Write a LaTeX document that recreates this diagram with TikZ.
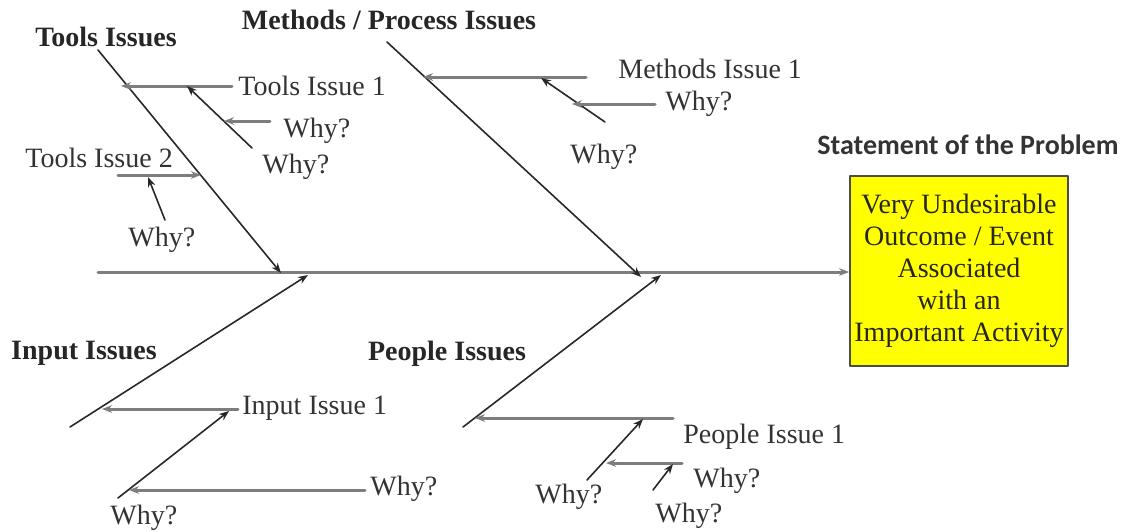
\documentclass[tikz,border=0pt]{standalone}
\usepackage{fontspec}
\setmainfont{Liberation Serif}
\newfontfamily\headsans{Carlito}
\usepackage{xcolor}
\usetikzlibrary{arrows.meta}
\definecolor{ColRib}{RGB}{125,125,125}
\definecolor{ColBone}{RGB}{40,40,40}
\definecolor{ColBox}{RGB}{255,255,0}

\begin{document}
\begin{tikzpicture}[
  x=0.5pt, y=-0.5pt,
  >={Stealth[length=5pt,width=3.8pt]},
  line cap=round,
  line join=round,
  every node/.style={font=\fontsize{14}{16}\selectfont, inner sep=0pt},
  bone/.style={draw=ColBone, line width=0.8pt},
  rib/.style={draw=ColRib, line width=1.5pt},
  cause/.style={font=\fontsize{14}{16}\selectfont\bfseries, text=black!85},
  item/.style={anchor=west, text=black!80}
]
  \useasboundingbox (0,0) rectangle (1130,531);

  % Problem box and spine
  \node[draw=black!70, line width=0.9pt, fill=ColBox, minimum width=109pt, minimum height=95pt,
        align=center, text=black!85] (problem) at (959,271)
    {Very Undesirable\\Outcome / Event\\Associated\\with an\\Important Activity};
  \node[font=\fontsize{14}{16}\selectfont\headsans\bfseries, text=black!80] (stmt) at (968,145)
    {Statement of the Problem};
  \coordinate (tail) at (98,272);
  \draw[rib, ->] (tail) -- (tail -| problem.west);

  % Cause labels
  \node[cause] (tools)   at (106,37)  {Tools Issues};
  \node[cause] (methods) at (389,20)  {Methods / Process Issues};
  \node[cause] (input)   at (84,353)  {Input Issues};
  \node[cause] (people)  at (447,354) {People Issues};

  % Tools bone
  \coordinate (t0) at (98,50);   \coordinate (t1) at (281,273);
  \draw[bone, ->] (t0) -- (t1);
  \coordinate (ta) at (232,86);  \coordinate (tb) at (121,86);
  \draw[rib, ->] (ta) -- (tb);
  \node[item] (tools1) at (238,86) {Tools Issue 1};
  \coordinate (tc) at (252,148); \coordinate (td) at (187,86);
  \draw[bone, ->] (tc) -- (td);
  \coordinate (te) at (270,121); \coordinate (tf) at (224,121);
  \draw[rib, ->] (te) -- (tf);
  \node[item] (twhy1) at (283,131) {Why?};
  \node[item] (twhy2) at (262,167) {Why?};
  \node[item] (tools2) at (25,158) {Tools Issue 2};
  \coordinate (tg) at (118,175); \coordinate (th) at (201,175);
  \draw[rib, ->] (tg) -- (th);
  \coordinate (ti) at (165,220); \coordinate (tj) at (148,177);
  \draw[bone, ->] (ti) -- (tj);
  \node[item] (twhy3) at (128,240) {Why?};

  % Methods / process bone
  \coordinate (m0) at (387,42);  \coordinate (m1) at (641,277);
  \draw[bone, ->] (m0) -- (m1);
  \coordinate (ma) at (586,77);  \coordinate (mb) at (423,77);
  \draw[rib, ->] (ma) -- (mb);
  \node[item] (meth1) at (618,69) {Methods Issue 1};
  \coordinate (mc) at (605,122); \coordinate (md) at (541,78);
  \draw[bone, ->] (mc) -- (md);
  \coordinate (me) at (655,104); \coordinate (mf) at (572,104);
  \draw[rib, ->] (me) -- (mf);
  \node[item] (mwhy1) at (665,104) {Why?};
  \node[item] (mwhy2) at (570,157) {Why?};

  % Input bone
  \coordinate (i0) at (70,427);  \coordinate (i1) at (308,275);
  \draw[bone, ->] (i0) -- (i1);
  \coordinate (ia) at (238,409); \coordinate (ib) at (102,409);
  \draw[rib, ->] (ia) -- (ib);
  \node[item] (input1) at (242,408) {Input Issue 1};
  \coordinate (ic) at (118,498); \coordinate (id) at (229,411);
  \draw[bone, ->] (ic) -- (id);
  \coordinate (ie) at (365,490); \coordinate (if) at (129,490);
  \draw[rib, ->] (ie) -- (if);
  \node[item] (iwhy1) at (370,489) {Why?};
  \node[item] (iwhy2) at (110,518) {Why?};

  % People bone
  \coordinate (p0) at (463,427); \coordinate (p1) at (661,275);
  \draw[bone, ->] (p0) -- (p1);
  \coordinate (pa) at (673,418); \coordinate (pb) at (475,418);
  \draw[rib, ->] (pa) -- (pb);
  \node[item] (people1) at (683,437) {People Issue 1};
  \coordinate (pc) at (587,480); \coordinate (pd) at (643,419);
  \draw[bone, ->] (pc) -- (pd);
  \coordinate (pe) at (682,463); \coordinate (pf) at (606,463);
  \draw[rib, ->] (pe) -- (pf);
  \coordinate (pg) at (653,490); \coordinate (ph) at (673,464);
  \draw[bone, ->] (pg) -- (ph);
  \node[item] (pwhy1) at (535,497) {Why?};
  \node[item] (pwhy2) at (693,481) {Why?};
  \node[item] (pwhy3) at (655,516) {Why?};
\end{tikzpicture}
\end{document}
